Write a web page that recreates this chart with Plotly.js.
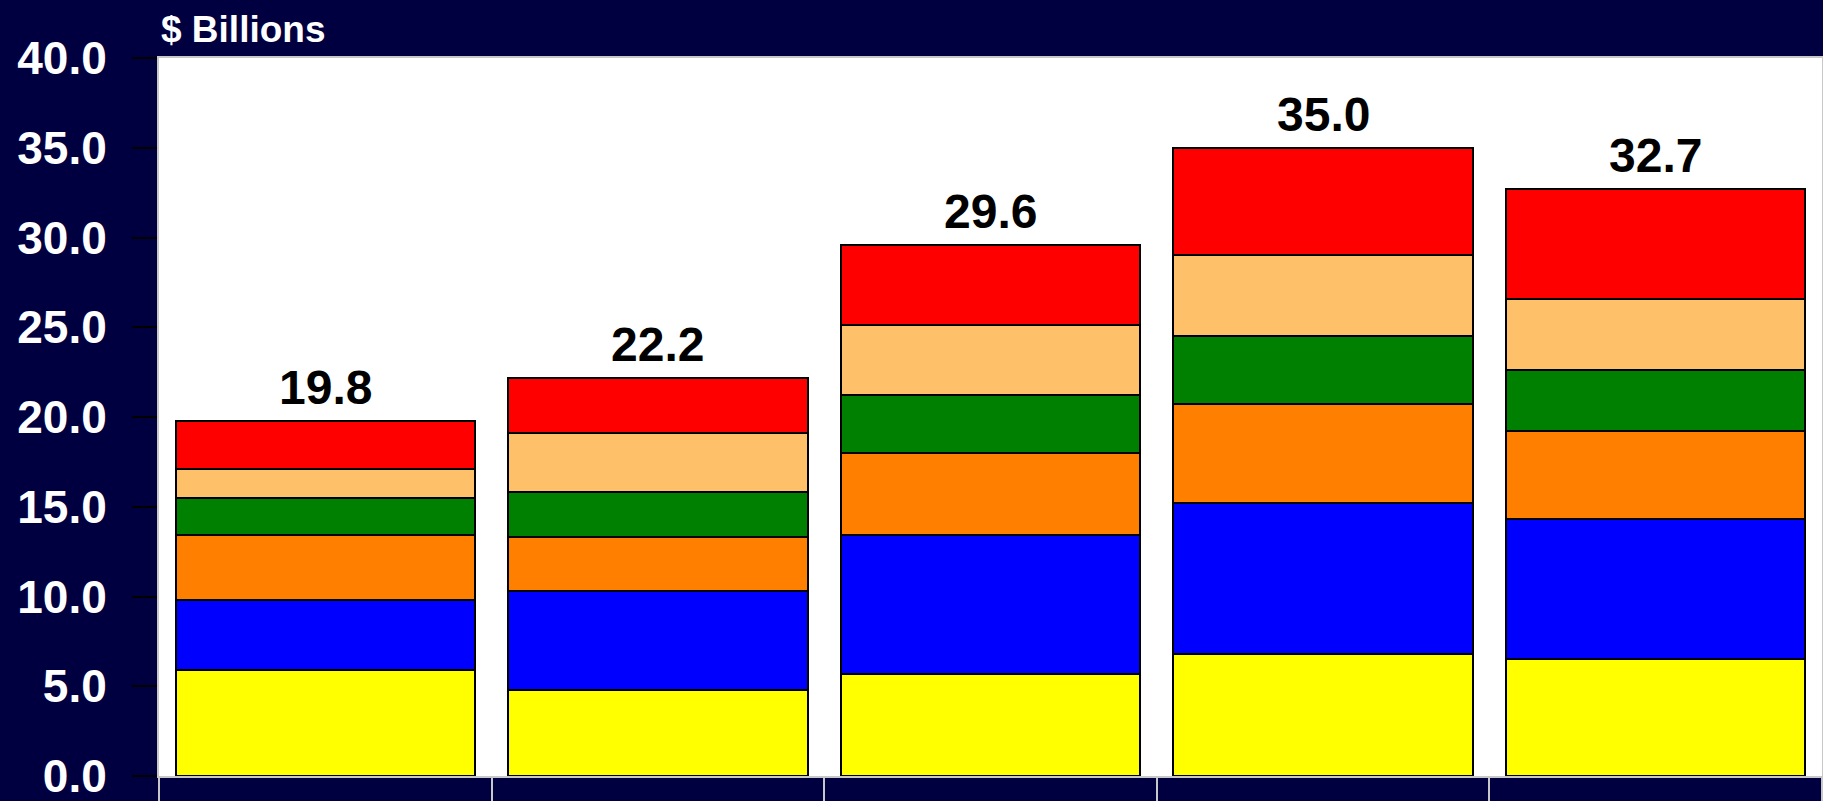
<!DOCTYPE html>
<html>
<head>
<meta charset="utf-8">
<script src="https://cdn.plot.ly/plotly-3.0.1.min.js"></script>
<style>
  html, body { margin: 0; padding: 0; background: #000040; }
  #chart { width: 1823px; height: 801px; }
</style>
</head>
<body>
<div id="chart"></div>
<script>
// Categories (labels are not visible in the reference)
const categories = ["Period 1", "Period 2", "Period 3", "Period 4", "Period 5"];

// Stacked series, bottom to top ($ Billions)
const yellowSeries = [5.9, 4.8, 5.7, 6.8, 6.5];
const blueSeries   = [3.9, 5.5, 7.7, 8.4, 7.8];
const orangeSeries = [3.6, 3.0, 4.6, 5.5, 4.9];
const greenSeries  = [2.1, 2.5, 3.2, 3.8, 3.4];
const tanSeries    = [1.6, 3.3, 3.9, 4.5, 4.0];
const redSeries    = [2.7, 3.1, 4.5, 6.0, 6.1];

// Totals shown above the bars
const totals = [19.8, 22.2, 29.6, 35.0, 32.7];

const yTickValues = [0, 5, 10, 15, 20, 25, 30, 35, 40];

const series = [
  { name: "Series 1", values: yellowSeries, color: "#FFFF00" },
  { name: "Series 2", values: blueSeries,   color: "#0000FF" },
  { name: "Series 3", values: orangeSeries, color: "#FF8000" },
  { name: "Series 4", values: greenSeries,  color: "#008000" },
  { name: "Series 5", values: tanSeries,    color: "#FFC06A" },
  { name: "Series 6", values: redSeries,    color: "#FF0000" }
];

const traces = series.map(s => ({
  type: "bar",
  name: s.name,
  x: categories,
  y: s.values,
  marker: { color: s.color, line: { color: "#000000", width: 2 } },
  hoverinfo: "x+y+name"
}));

const annotations = categories.map((c, i) => ({
  x: c, y: totals[i], xref: "x", yref: "y",
  text: totals[i].toFixed(1),
  showarrow: false,
  xanchor: "center", yanchor: "bottom", yshift: 5,
  font: { family: "Liberation Sans, Arial, sans-serif", size: 48, color: "#000000", weight: "bold" }
}));

annotations.push({
  xref: "paper", yref: "paper", x: 0, y: 1,
  xanchor: "left", yanchor: "bottom", yshift: 6,
  text: "$ Billions",
  showarrow: false,
  font: { family: "Liberation Sans, Arial, sans-serif", size: 37, color: "#FFFFFF", weight: "bold" }
});

const layout = {
  width: 1823, height: 801,
  margin: { l: 159, r: 1, t: 58, b: 25, pad: 0 },
  paper_bgcolor: "#000040",
  plot_bgcolor: "#FFFFFF",
  barmode: "stack",
  bargap: 0.1,
  showlegend: false,
  xaxis: {
    type: "category",
    showticklabels: false,
    ticks: "outside", tickson: "boundaries",
    ticklen: 30, tickwidth: 2, tickcolor: "#C8C8C8",
    showline: true, linecolor: "#C8C8C8", linewidth: 2, mirror: true,
    showgrid: false, zeroline: false
  },
  yaxis: {
    range: [0, 40],
    tickvals: yTickValues,
    tickformat: ".1f",
    ticks: "outside", ticklen: 25, tickwidth: 2, tickcolor: "#000000",
    ticklabelstandoff: 16,
    ticklabeloverflow: "allow",
    tickfont: { family: "Liberation Sans, Arial, sans-serif", size: 46, color: "#FFFFFF", weight: "bold" },
    showline: true, linecolor: "#C8C8C8", linewidth: 2, mirror: true,
    showgrid: false, zeroline: false
  },
  annotations: annotations
};

Plotly.newPlot("chart", traces, layout, { displayModeBar: false, staticPlot: true });
</script>
</body>
</html>
